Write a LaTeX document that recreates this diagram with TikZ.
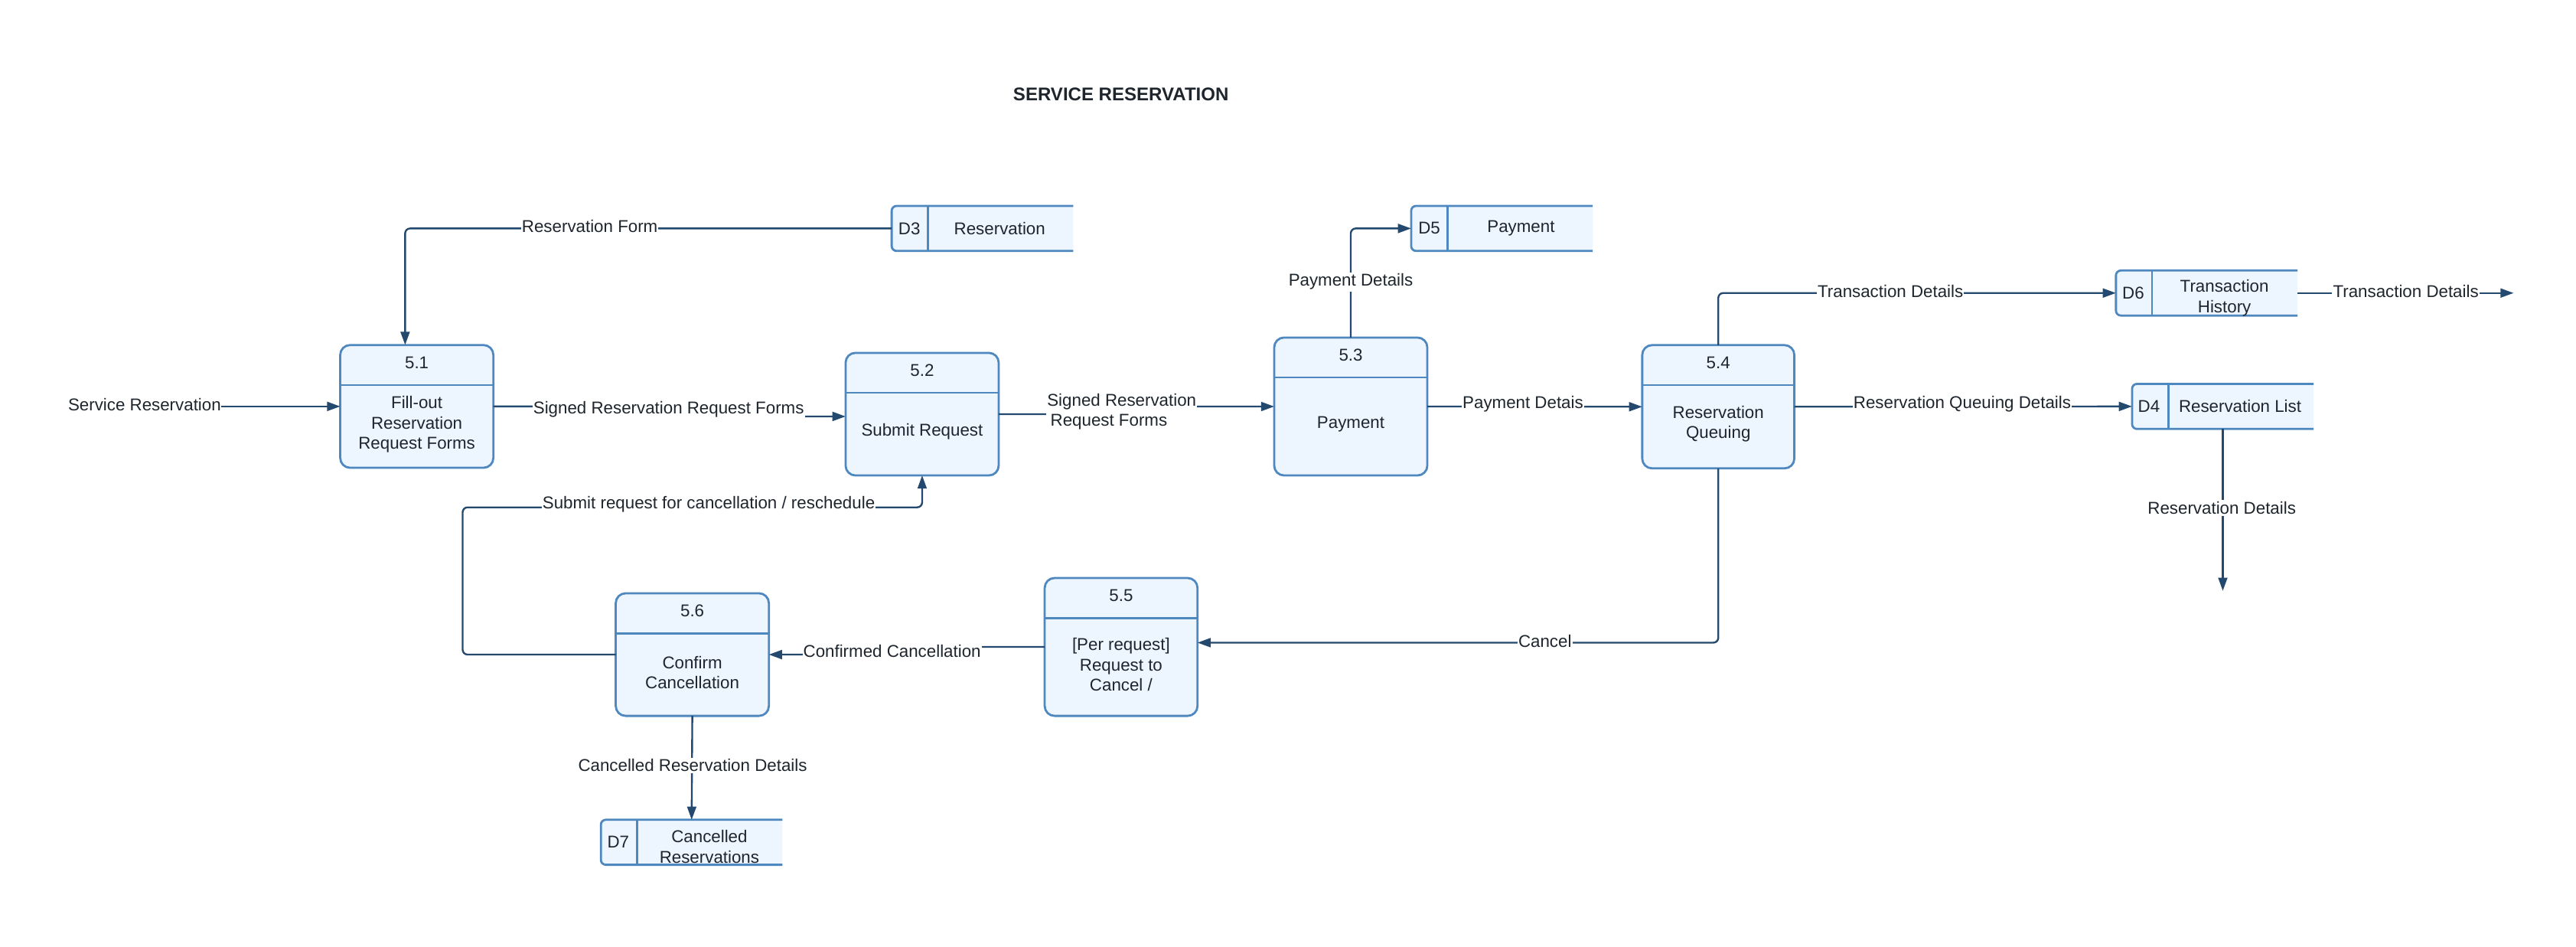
\documentclass[tikz,border=0pt]{standalone}
\usepackage{fontspec}
\setmainfont{Liberation Sans}
\usetikzlibrary{arrows.meta}

\definecolor{boxfill}{HTML}{EDF5FF}
\definecolor{boxline}{HTML}{4E88BE}
\definecolor{flowline}{HTML}{24496F}
\definecolor{txt}{HTML}{1E252D}

\tikzset{
  every node/.style={text=txt, font=\fontsize{10.4pt}{12.4pt}\selectfont},
  proc/.style={draw=boxline, fill=boxfill, line width=1.3pt, rounded corners=6pt,
               inner sep=0pt, outer sep=0pt},
  store/.style={inner sep=0pt, outer sep=0pt, minimum width=110.5pt, minimum height=27.4pt},
  storeline/.style={draw=boxline, line width=1.3pt},
  divline/.style={draw=boxline, line width=1.3pt},
  flow/.style={draw=flowline, line width=1.1pt, rounded corners=3pt,
               -{Triangle[length=8pt,width=5.5pt]}},
  plainflow/.style={draw=flowline, line width=1.1pt, rounded corners=3pt},
  lbl/.style={fill=white, inner xsep=0.5pt, inner ysep=1pt},
  body/.style={align=center},
}

% data store: rounded left end, open right end, id compartment on the left
\newcommand{\drawstore}[1]{%
  \filldraw[storeline, fill=boxfill, rounded corners=3pt]
    (#1.north east) -- (#1.north west) -- (#1.south west) -- (#1.south east);
  \draw[divline] ([xshift=22pt]#1.north west) -- ([xshift=22pt]#1.south west);}

\begin{document}
\begin{tikzpicture}[x=1pt, y=-1pt]
\useasboundingbox (0,0) rectangle (1568,576);

% title
\node[font=\fontsize{11.2pt}{13pt}\selectfont\bfseries] (title) at (682.3,57.4) {SERVICE RESERVATION};

% ---------- processes ----------
\node[proc, minimum width=93.2pt, minimum height=74.7pt] (p1) at (253.7,247.3) {};
\node[proc, minimum width=93.2pt, minimum height=74.6pt] (p2) at (561.3,252.0) {};
\node[proc, minimum width=93.2pt, minimum height=83.9pt] (p3) at (822.2,247.35) {};
\node[proc, minimum width=92.6pt, minimum height=75.0pt] (p4) at (1045.9,247.5) {};
\node[proc, minimum width=93.0pt, minimum height=83.9pt] (p5) at (682.4,393.65) {};
\node[proc, minimum width=93.2pt, minimum height=74.6pt] (p6) at (421.4,398.3) {};

\draw[divline] (p1.west |- 0,234.3) -- (p1.east |- 0,234.3);
\draw[divline] (p2.west |- 0,239.0) -- (p2.east |- 0,239.0);
\draw[divline] (p3.west |- 0,229.7) -- (p3.east |- 0,229.7);
\draw[divline] (p4.west |- 0,234.3) -- (p4.east |- 0,234.3);
\draw[divline] (p5.west |- 0,376.2) -- (p5.east |- 0,376.2);
\draw[divline] (p6.west |- 0,385.3) -- (p6.east |- 0,385.3);

\node (p1num) at (253.7,220.8) {5.1};
\node (p2num) at (561.3,225.5) {5.2};
\node (p3num) at (822.2,216.0) {5.3};
\node (p4num) at (1045.9,221.0) {5.4};
\node (p5num) at (682.4,362.5) {5.5};
\node (p6num) at (421.4,371.6) {5.6};

\node[body] (p1txt) at (253.7,258.2) {Fill-out\\Reservation\\Request Forms};
\node[body] (p2txt) at (561.3,262.7) {Submit Request};
\node[body] (p3txt) at (822.2,258.0) {Payment};
\node[body] (p4txt) at (1045.9,258.0) {Reservation\\Queuing};
\node[body] (p5txt) at (682.4,404.5) {[Per request]\\Request to\\Cancel /};
\node[body] (p6txt) at (421.4,409.2) {Confirm\\Cancellation};

% ---------- data stores ----------
\node[store] (d3) at (598.0,139.0) {};
\node[store] (d5) at (914.2,139.0) {};
\node[store] (d6) at (1343.2,178.3) {};
\node[store] (d4) at (1353.0,247.3) {};
\node[store] (d7) at (421.0,512.5) {};
\drawstore{d3}
\drawstore{d5}
\drawstore{d6}
\drawstore{d4}
\drawstore{d7}

\node (d3id) at (553.5,139.0) {D3};
\node (d3name) at (608.5,139.0) {Reservation};
\node (d5id) at (870.0,139.0) {D5};
\node (d5name) at (925.8,139.0) {Payment};
\node (d6id) at (1298.5,178.3) {D6};
\node[body] (d6name) at (1354.0,181.4) {Transaction\\History};
\node (d4id) at (1308.0,247.3) {D4};
\node (d4name) at (1363.5,247.3) {Reservation List};
\node (d7id) at (376.3,512.5) {D7};
\node[body] (d7name) at (431.8,515.2) {Cancelled\\Reservations};

% ---------- flow label positions and loose ends ----------
\coordinate (lrf) at (359.0,137.7);
\coordinate (lsr1) at (407.0,249.2);
\coordinate (lsr2) at (682.8,250.5);
\coordinate (lpd1) at (822.2,171.5);
\coordinate (lpd2) at (927.0,246.0);
\coordinate (ltd1) at (1150.7,177.3);
\coordinate (ltd2) at (1464.4,177.3);
\coordinate (lrq) at (1194.4,246.0);
\coordinate (lrd) at (1352.4,309.0);
\coordinate (lc) at (940.4,390.0);
\coordinate (lcc) at (543.0,396.0);
\coordinate (lsub) at (431.4,307.0);
\coordinate (lcrd) at (421.6,465.8);
\coordinate (rfin) at (246.6,209.9);
\coordinate (subcorner) at (281.6,308.7);
\coordinate (tdout) at (1530.0,178.3);
\coordinate (rdout) at (1353.0,359.5);

\node[inner sep=0pt, outer sep=0pt] (svc) at (88.0,246.0) {Service Reservation};

% ---------- flows ----------
\draw[flow] (svc.east |- p1.west) -- (p1.west);
\draw[flow] (d3.west) -| (rfin);
\draw[flow] (p1.east) -| (lsr1) |- ([yshift=-1.4pt]p2.west);
\draw[flow] (p2.east) -| (lsr2) |- (p3.west);
\draw[flow] (p3.north) |- (d5.west);
\draw[flow] (p3.east) -- (p4.west);
\draw[flow] (p4.north) |- (d6.west);
\draw[flow] (d6.east) -- (tdout);
\draw[flow] (p4.east) -- (d4.west);
\draw[flow] (d4.south) -- (rdout);
\draw[flow] (p4.south) |- ([yshift=2.6pt]p5.east);
\draw[flow] (p5.west) -| (lcc) |- (p6.east);
\draw[flow] (p6.west) -| (subcorner) -| (p2.south);
\draw[flow] (p6.south) -- (d7.north);

% ---------- flow labels ----------
\node[lbl] (lrft) at (lrf) {Reservation Form};
\node[lbl] (lsr1t) at (lsr1) {Signed Reservation Request Forms};
\node[lbl, align=left] (lsr2t) at (lsr2) {Signed Reservation\\\hspace*{2pt}Request Forms};
\node[lbl] (lpd1t) at (lpd1) {Payment Details};
\node[lbl] (lpd2t) at (lpd2) {Payment Detais};
\node[lbl] (ltd1t) at (ltd1) {Transaction Details};
\node[lbl] (ltd2t) at (ltd2) {Transaction Details};
\node[lbl] (lrqt) at (lrq) {Reservation Queuing Details};
\node[lbl] (lrdt) at (lrd) {Reservation Details};
\node[lbl] (lct) at (lc) {Cancel};
\node[lbl] (lcct) at (lcc) {Confirmed Cancellation};
\node[lbl] (lsubt) at (lsub) {Submit request for cancellation / reschedule};
\node[lbl] (lcrdt) at (lcrd) {Cancelled Reservation Details};
\end{tikzpicture}
\end{document}
